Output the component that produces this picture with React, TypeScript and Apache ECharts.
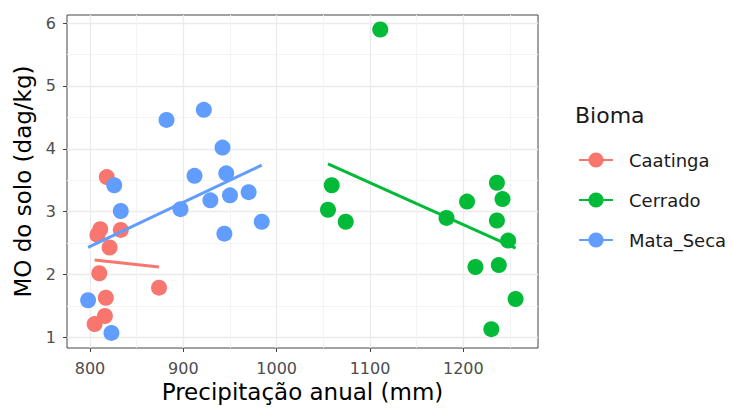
import React, { useEffect, useRef } from "react";
import * as echarts from "echarts";

const biomes = ["Caatinga", "Cerrado", "Mata_Seca"];
const colors = ["#F8766D", "#00BA38", "#619CFF"];

const caatingaX = [818, 811, 808, 833, 821, 810, 817, 816, 805, 874];
const caatingaY = [3.55, 2.72, 2.63, 2.71, 2.43, 2.02, 1.63, 1.34, 1.21, 1.79];

const cerradoX = [1111, 1059, 1055, 1074, 1182, 1204, 1236, 1242, 1236, 1248, 1213, 1238, 1256, 1230];
const cerradoY = [5.9, 3.42, 3.03, 2.84, 2.9, 3.16, 3.46, 3.2, 2.86, 2.54, 2.12, 2.15, 1.61, 1.13];

const mataX = [882, 922, 942, 912, 946, 826, 970, 950, 929, 897, 833, 984, 944, 798, 823];
const mataY = [4.46, 4.62, 4.02, 3.57, 3.61, 3.42, 3.31, 3.26, 3.18, 3.04, 3.01, 2.84, 2.65, 1.59, 1.07];

// fitted line end points [x1, y1, x2, y2]
const caatingaFit = [805, 2.23, 874, 2.12];
const cerradoFit = [1055, 3.76, 1256, 2.42];
const mataFit = [798, 2.43, 984, 3.74];

const xTicks = [800, 900, 1000, 1100, 1200];
const yTicks = [1, 2, 3, 4, 5, 6];

const FONT = "DejaVu Sans, Liberation Sans, Arial, sans-serif";

function pts(xs: number[], ys: number[]) {
  return xs.map((x, i) => [x, ys[i]]);
}
function fit(f: number[]) {
  return [
    [f[0], f[1]],
    [f[2], f[3]],
  ];
}

export default function App() {
  const ref = useRef<HTMLDivElement>(null);
  useEffect(() => {
    if (!ref.current) return;
    const chart = echarts.init(ref.current, undefined, { renderer: "svg" });
    const scatterData = [pts(caatingaX, caatingaY), pts(cerradoX, cerradoY), pts(mataX, mataY)];
    const fitData = [fit(caatingaFit), fit(cerradoFit), fit(mataFit)];
    const lineSeries = biomes.map((b, i) => ({
      type: "line",
      name: b,
      data: fitData[i],
      symbol: "circle",
      showSymbol: false,
      z: 3,
      color: colors[i],
      itemStyle: { color: colors[i] },
      lineStyle: { color: colors[i], width: 3 },
      silent: true,
    }));
    const scatterSeries = biomes.map((b, i) => ({
      type: "scatter",
      name: b,
      data: scatterData[i],
      symbol: "circle",
      symbolSize: 16,
      z: 2,
      itemStyle: { color: colors[i], opacity: 1 },
    }));
    chart.setOption({
      animation: false,
      backgroundColor: "#ffffff",
      textStyle: { fontFamily: FONT },
      title: {
        text: "Bioma",
        left: 575,
        top: 104,
        padding: 0,
        textStyle: { fontFamily: FONT, fontSize: 22, fontWeight: "normal", color: "#1a1a1a" },
      },
      legend: {
        data: biomes,
        orient: "vertical",
        left: 578,
        top: 151,
        itemWidth: 34,
        itemHeight: 19,
        itemGap: 22,
        padding: 0,
        selectedMode: false,
        textStyle: { fontFamily: FONT, fontSize: 18, color: "#1a1a1a", padding: [0, 0, 0, 11] },
      },
      grid: {
        left: 67,
        top: 15,
        width: 471,
        height: 333,
        show: true,
        borderColor: "#444444",
        borderWidth: 1,
        backgroundColor: "#ffffff",
        containLabel: false,
      },
      xAxis: {
        type: "value",
        min: 775.4,
        max: 1280,
        minInterval: 100,
        maxInterval: 100,
        name: "Precipitação anual (mm)",
        nameLocation: "middle",
        nameGap: 31,
        nameTextStyle: { fontFamily: FONT, fontSize: 23, color: "#000000" },
        axisLine: { show: false },
        axisTick: { show: true, length: 4, lineStyle: { color: "#444444" }, customValues: xTicks },
        axisLabel: {
          fontFamily: FONT,
          fontSize: 16,
          color: "#4d4d4d",
          margin: 12,
          customValues: xTicks,
          formatter: (v: number) => (xTicks.includes(v) ? String(v) : ""),
        },
        splitLine: { show: true, lineStyle: { color: "#ebebeb", width: 1.3 } },
        minorTick: { show: false, splitNumber: 2 },
        minorSplitLine: { show: true, lineStyle: { color: "#f4f4f4", width: 1 } },
      },
      yAxis: {
        type: "value",
        min: 0.83,
        max: 6.13,
        minInterval: 1,
        maxInterval: 1,
        name: "MO do solo (dag/kg)",
        nameLocation: "middle",
        nameGap: 33,
        nameTextStyle: { fontFamily: FONT, fontSize: 23, color: "#000000" },
        axisLine: { show: false },
        axisTick: { show: true, length: 4, lineStyle: { color: "#444444" }, customValues: yTicks },
        axisLabel: {
          fontFamily: FONT,
          fontSize: 16,
          color: "#4d4d4d",
          margin: 11,
          customValues: yTicks,
          formatter: (v: number) => (yTicks.includes(v) ? String(v) : ""),
        },
        splitLine: { show: true, lineStyle: { color: "#ebebeb", width: 1.3 } },
        minorTick: { show: false, splitNumber: 2 },
        minorSplitLine: { show: true, lineStyle: { color: "#f4f4f4", width: 1 } },
      },
      series: [...lineSeries, ...scatterSeries],
    });
    return () => chart.dispose();
  }, []);
  return (
    <div
      ref={ref}
      style={{ position: "absolute", left: 0, top: 0, width: 733, height: 412 }}
    />
  );
}
